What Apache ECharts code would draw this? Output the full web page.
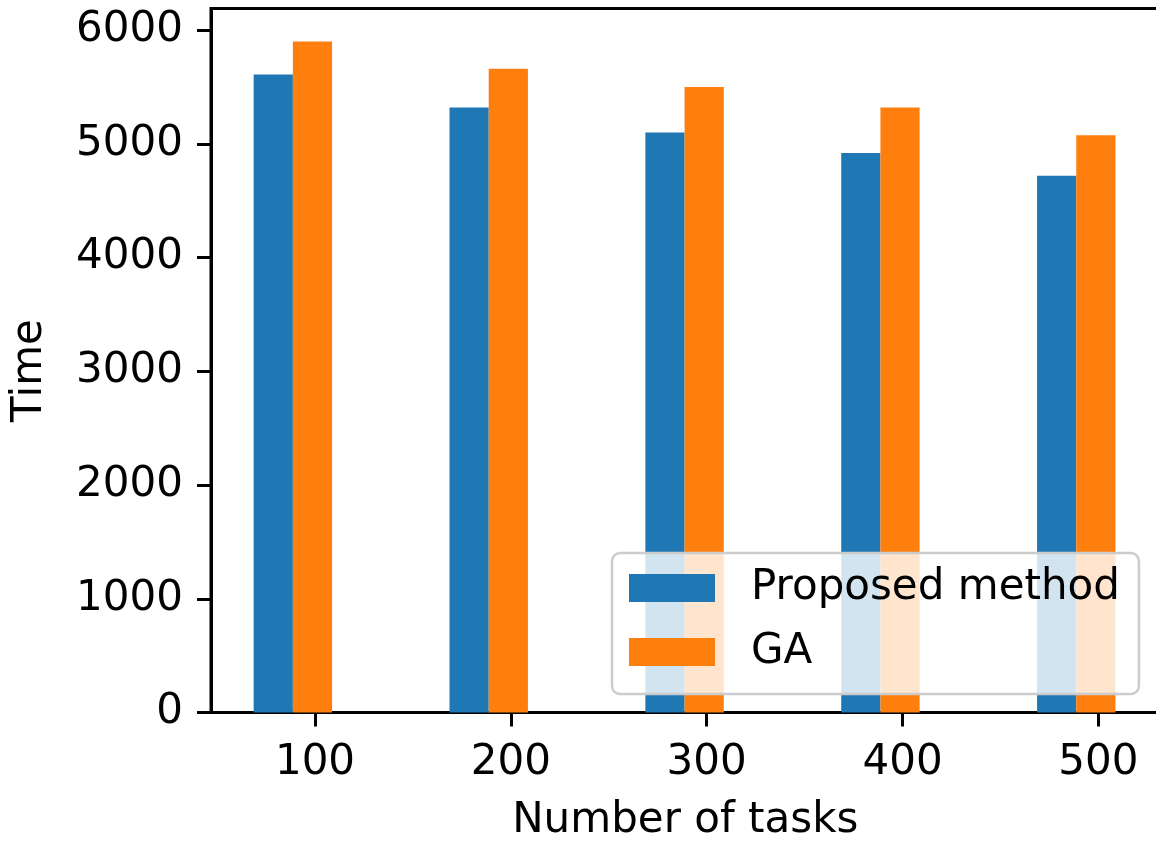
<!DOCTYPE html>
<html>
<head>
<meta charset="utf-8">
<script src="https://cdn.jsdelivr.net/npm/echarts@6/dist/echarts.min.js"></script>
<style>
html,body{margin:0;padding:0;background:#fff;}
#chart{width:1156px;height:841px;}
</style>
</head>
<body>
<div id="chart"></div>
<script>
// ---- data ----
const categories = ['100', '200', '300', '400', '500'];
const proposedMethod = [5610, 5320, 5100, 4920, 4720];
const gaValues = [5900, 5660, 5500, 5320, 5075];
const seriesNames = ['Proposed method', 'GA'];
const yMin = 0, yMax = 6190, yInterval = 1000;

// ---- layout constants ----
const FONT = 'DejaVu Sans';
const FS = 42;
const pairOffset = -0.113;           // pair centre relative to tick position (axis units)
const tickPositions = categories.map((_, i) => i);

const chart = echarts.init(document.getElementById('chart'), null, {renderer: 'canvas'});
chart.setOption({
  animation: false,
  backgroundColor: '#ffffff',
  color: ['#1f77b4', '#ff7f0e'],
  grid: {
    left: 211, top: 8.5, bottom: 128.5, right: -3.6,
    show: true, borderColor: '#000', borderWidth: 3,
    backgroundColor: 'transparent',
    containLabel: false, outerBoundsMode: 'none'
  },
  legend: {
    orient: 'vertical',
    left: 612, top: 553,
    itemWidth: 86, itemHeight: 28, itemGap: 22,
    icon: 'rect',
    selectedMode: false,
    padding: [14, 19, 21, 17],
    backgroundColor: 'rgba(255,255,255,0.8)',
    borderColor: '#cccccc', borderWidth: 2.5, borderRadius: 8,
    textStyle: {fontFamily: FONT, fontSize: FS, color: '#000', lineHeight: 42, padding: [0, 0, 0, 31]},
    data: seriesNames
  },
  xAxis: {
    type: 'value',
    min: -0.531, max: 4.3125,
    name: 'Number of tasks',
    nameLocation: 'middle',
    nameGap: 88,
    nameTextStyle: {fontFamily: FONT, fontSize: FS, color: '#000'},
    axisLine: {show: true, onZero: false, lineStyle: {color: '#000', width: 3}},
    axisTick: {show: true, length: 14, lineStyle: {color: '#000', width: 3}, customValues: tickPositions},
    axisLabel: {
      show: true, margin: 30, fontFamily: FONT, fontSize: FS, color: '#000',
      customValues: tickPositions,
      formatter: v => categories[Math.round(v)]
    },
    splitLine: {show: false}
  },
  yAxis: {
    type: 'value',
    min: yMin, max: yMax, interval: yInterval,
    name: 'Time',
    nameLocation: 'middle',
    nameGap: 160,
    nameTextStyle: {fontFamily: FONT, fontSize: FS, color: '#000', padding: [0, 20, 0, 0]},
    axisLine: {show: true, onZero: false, lineStyle: {color: '#000', width: 3}},
    axisTick: {show: true, length: 14, lineStyle: {color: '#000', width: 3}},
    axisLabel: {
      margin: 28, fontFamily: FONT, fontSize: FS, color: '#000',
      showMaxLabel: false,
      formatter: v => (v % yInterval === 0 ? String(v) : '')
    },
    splitLine: {show: false}
  },
  series: [
    {
      name: seriesNames[0], type: 'bar', barWidth: 39.2, barGap: '0%',
      data: proposedMethod.map((v, i) => [tickPositions[i] + pairOffset, v])
    },
    {
      name: seriesNames[1], type: 'bar', barWidth: 39.2, barGap: '0%',
      data: gaValues.map((v, i) => [tickPositions[i] + pairOffset, v])
    }
  ]
});
</script>
</body>
</html>
